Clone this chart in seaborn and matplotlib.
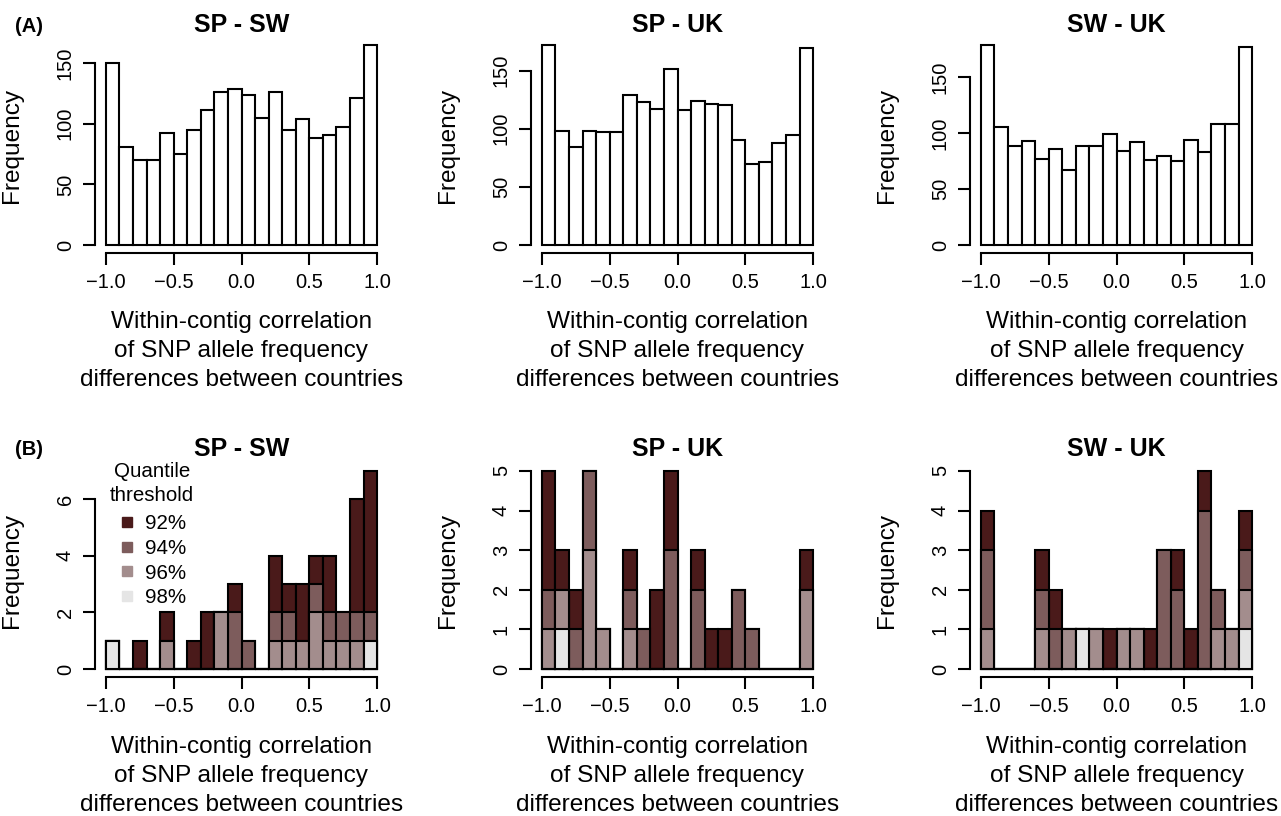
import numpy as np
import pandas as pd
import seaborn as sns
import matplotlib.pyplot as plt
from matplotlib.lines import Line2D

# bins of the correlation histograms (-1 to 1, width 0.1)
edges = np.linspace(-1, 1, 21)
centers = (edges[:-1] + edges[1:]) / 2

panel_titles = ["SP - SW", "SP - UK", "SW - UK"]

# (A) all contigs, counts per bin
all_sp_sw = [150, 81, 70, 70, 92, 75, 95, 111, 126, 129, 124, 105, 126, 95, 104, 88, 91, 97, 121, 165]
all_sp_uk = [172, 98, 84, 98, 97, 97, 129, 123, 117, 151, 116, 124, 121, 120, 90, 70, 71, 88, 95, 169]
all_sw_uk = [179, 106, 89, 93, 77, 86, 67, 89, 89, 99, 84, 92, 76, 80, 75, 94, 83, 108, 108, 177]

# (B) outlier contigs by quantile threshold (nested counts)
sp_sw_92 = [1, 0, 1, 0, 2, 0, 1, 2, 2, 3, 1, 0, 4, 3, 3, 4, 4, 2, 6, 7]
sp_sw_94 = [1, 0, 0, 0, 1, 0, 0, 0, 2, 2, 1, 0, 2, 2, 1, 3, 2, 2, 2, 2]
sp_sw_96 = [1, 0, 0, 0, 1, 0, 0, 0, 2, 0, 0, 0, 1, 1, 1, 2, 1, 1, 1, 1]
sp_sw_98 = [1, 0, 0, 0, 0, 0, 0, 0, 0, 0, 0, 0, 0, 0, 0, 0, 0, 0, 0, 1]

sp_uk_92 = [5, 3, 2, 5, 1, 0, 3, 1, 2, 5, 0, 3, 1, 1, 2, 1, 0, 0, 0, 3]
sp_uk_94 = [2, 2, 1, 5, 1, 0, 2, 1, 0, 3, 0, 2, 0, 0, 2, 1, 0, 0, 0, 2]
sp_uk_96 = [1, 2, 0, 3, 1, 0, 1, 0, 0, 0, 0, 0, 0, 0, 0, 0, 0, 0, 0, 2]
sp_uk_98 = [0, 1, 0, 0, 0, 0, 0, 0, 0, 0, 0, 0, 0, 0, 0, 0, 0, 0, 0, 0]

sw_uk_92 = [4, 0, 0, 0, 3, 2, 1, 1, 1, 1, 1, 1, 1, 3, 3, 1, 5, 2, 1, 4]
sw_uk_94 = [3, 0, 0, 0, 2, 1, 1, 1, 1, 0, 1, 1, 0, 3, 2, 0, 4, 2, 1, 3]
sw_uk_96 = [1, 0, 0, 0, 1, 0, 1, 1, 1, 0, 1, 1, 0, 0, 0, 0, 0, 1, 1, 2]
sw_uk_98 = [0, 0, 0, 0, 0, 0, 0, 1, 0, 0, 0, 0, 0, 0, 0, 0, 0, 0, 0, 1]

thresholds = ["92%", "94%", "96%", "98%"]
colors = ["#4a1a1a", "#7d5c5c", "#a38d8d", "#e5e5e5"]

top_counts = [all_sp_sw, all_sp_uk, all_sw_uk]
bottom_counts = [
    [sp_sw_92, sp_sw_94, sp_sw_96, sp_sw_98],
    [sp_uk_92, sp_uk_94, sp_uk_96, sp_uk_98],
    [sw_uk_92, sw_uk_94, sw_uk_96, sw_uk_98],
]
top_yticks = [[0, 50, 100, 150]] * 3
bottom_yticks = [[0, 2, 4, 6], [0, 1, 2, 3, 4, 5], [0, 1, 2, 3, 4, 5]]

sns.set_style("ticks")
plt.rcParams["font.family"] = ["Liberation Sans", "DejaVu Sans"]
plt.rcParams["text.color"] = "black"
plt.rcParams["axes.labelcolor"] = "black"

W, H = 1281, 816
fig = plt.figure(figsize=(W / 100, H / 100), dpi=100)

lefts = [95, 531, 970]
ax_w = 293
rows = [(37, 253), (463, 677)]  # top / bottom pixel of the plot regions

xlabel = "Within-contig correlation\nof SNP allele frequency\ndifferences between countries"
lw = 1.5


def draw_hist(ax, counts, col):
    df = pd.DataFrame({"r": centers, "n": counts})
    sns.histplot(data=df, x="r", weights="n", bins=list(edges), color=col,
                 edgecolor="black", linewidth=lw, alpha=1, ax=ax)


def style_axis(ax, yticks, ymax, label_offset):
    ax.set_xlim(-1.08, 1.08)
    ax.set_ylim(-0.04 * ymax, 1.04 * ymax)
    ax.set_xticks([-1.0, -0.5, 0.0, 0.5, 1.0])
    ax.set_xticklabels(["\u22121.0", "\u22120.5", "0.0", "0.5", "1.0"])
    ax.set_yticks(yticks)
    ax.spines["top"].set_visible(False)
    ax.spines["right"].set_visible(False)
    ax.spines["left"].set_bounds(yticks[0], yticks[-1])
    ax.spines["bottom"].set_bounds(-1, 1)
    for s in ["left", "bottom"]:
        ax.spines[s].set_linewidth(lw)
        ax.spines[s].set_color("black")
    ax.tick_params(length=8.5, width=lw, labelsize=14.5, pad=6, colors="black")
    for t in ax.get_yticklabels():
        t.set_rotation(90)
        t.set_va("center")
    ax.set_ylabel("Frequency", fontsize=17.6)
    ax.yaxis.set_label_coords(-0.245, 0.5)
    ax.set_xlabel(xlabel, fontsize=17.6, linespacing=1.42)
    ax.xaxis.label.set_va("center")
    ax.xaxis.set_label_coords(0.5, label_offset)


for i in range(3):
    # top row: all contigs
    t, b = rows[0]
    ax = fig.add_axes([lefts[i] / W, 1 - b / H, ax_w / W, (b - t) / H])
    draw_hist(ax, top_counts[i], "white")
    ax.set_title(panel_titles[i], fontsize=18, fontweight="bold", pad=3)
    style_axis(ax, top_yticks[i], max(top_counts[i]), -98 / (b - t))

    # bottom row: stacked thresholds
    t, b = rows[1]
    ax = fig.add_axes([lefts[i] / W, 1 - b / H, ax_w / W, (b - t) / H])
    for counts, col in zip(bottom_counts[i], colors):
        draw_hist(ax, counts, col)
    ax.set_title(panel_titles[i], fontsize=18, fontweight="bold", pad=5)
    style_axis(ax, bottom_yticks[i], max(bottom_counts[i][0]), -99 / (b - t))

    if i == 0:
        ax.text(0.195, 0.904, "Quantile\nthreshold", transform=ax.transAxes,
                ha="center", va="center", fontsize=14.8, linespacing=1.32,
                multialignment="center")
        handles = [Line2D([], [], marker="s", linestyle="none", color=c,
                          markersize=7) for c in colors]
        ax.legend(handles, thresholds, loc="upper left",
                  bbox_to_anchor=(0.067, 0.761), frameon=False, fontsize=14.8,
                  handlelength=1.2, handletextpad=0.3, labelspacing=0.28,
                  borderaxespad=0, borderpad=0)

fig.text(15 / W, 1 - 27 / H, "(A)", fontsize=14.5, fontweight="bold", va="center")
fig.text(15 / W, 1 - 449 / H, "(B)", fontsize=14.5, fontweight="bold", va="center")

fig.savefig("out.png", dpi=100)
